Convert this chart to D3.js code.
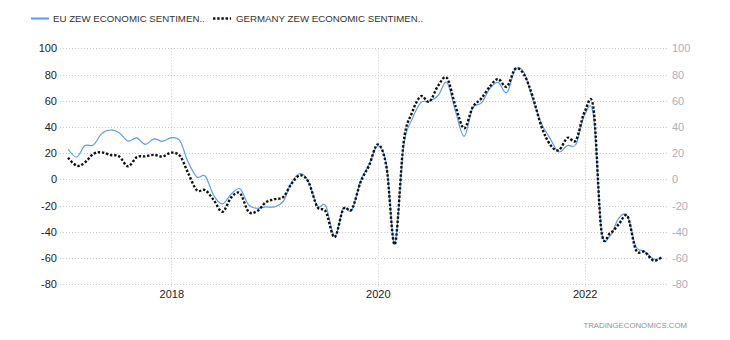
<!DOCTYPE html>
<html>
<head>
<meta charset="utf-8">
<script src="https://cdn.jsdelivr.net/npm/d3@7"></script>
<style>
  html, body { margin: 0; padding: 0; background: #fff; }
  svg { display: block; font-family: "Liberation Sans", Arial, sans-serif; }
</style>
</head>
<body>
<svg id="chart" width="730" height="340"></svg>
<script>
// Monthly readings, January 2017 through October 2022
const startYear = 2017;
const euSentiment = [
  23.2, 17.1, 25.6, 26.3, 35.1, 37.7, 35.6, 29.3, 31.7, 26.7, 30.9, 29.0,
  31.8, 29.3, 13.4, 1.9, 2.4, -12.6, -18.7, -11.1, -7.2, -19.4, -22.0, -21.0,
  -20.9, -16.6, -2.5, 4.5, -1.6, -20.2, -20.3, -43.6, -22.4, -23.5, -1.0, 11.2,
  25.6, 10.4, -49.5, 25.2, 46.0, 58.6, 59.6, 64.0, 73.9, 52.3, 32.8, 54.4,
  58.3, 69.6, 74.0, 66.3, 84.0, 81.3, 61.2, 42.7, 31.1, 21.0, 25.9, 26.8,
  49.4, 48.6, -38.7, -43.0, -29.5, -28.0, -51.1, -54.9, -60.7, -59.7
];
const germanySentiment = [
  16.6, 10.4, 12.8, 19.5, 20.6, 18.6, 17.5, 10.0, 17.0, 17.6, 18.7, 17.4,
  20.4, 17.8, 5.1, -8.2, -8.2, -16.1, -24.7, -13.7, -10.6, -24.7, -24.1, -17.5,
  -15.1, -13.4, -3.6, 3.1, -2.1, -21.1, -24.5, -44.1, -22.5, -22.8, -2.1, 10.7,
  26.7, 8.7, -49.5, 28.2, 51.0, 63.4, 59.3, 71.5, 77.4, 56.1, 39.0, 55.0,
  61.8, 71.2, 76.6, 70.7, 84.4, 79.8, 63.3, 40.4, 26.5, 22.3, 31.7, 29.9,
  51.7, 54.3, -39.3, -41.0, -34.3, -28.0, -53.8, -55.3, -61.9, -59.2
];
const seriesNames = ["EU ZEW ECONOMIC SENTIMEN..", "GERMANY ZEW ECONOMIC SENTIMEN.."];
const yTickValues = [-80, -60, -40, -20, 0, 20, 40, 60, 80, 100];
const xTickYears = [2018, 2020, 2022];
const sourceLabel = "TRADINGECONOMICS.COM";

const svg = d3.select("#chart");
const plot = { left: 60, right: 668, top: 48.3, bottom: 284.3 };

const x = d3.scaleTime()
  .domain([new Date(2017, 0, 1), new Date(2023, 0, 1)])
  .range([68, 688]);
const y = d3.scaleLinear()
  .domain([-80, 100])
  .range([plot.bottom, plot.top]);

const monthDate = i => new Date(startYear + Math.floor(i / 12), i % 12, 1);
// plain hyphen for negatives
const yLabel = d => String(d);

// Dotted grid
const grid = svg.append("g")
  .attr("stroke", "#c9c9c9")
  .attr("stroke-width", 1)
  .attr("stroke-dasharray", "1,2");
grid.selectAll("line.h").data(yTickValues).join("line")
  .attr("class", "h")
  .attr("x1", plot.left).attr("x2", plot.right)
  .attr("y1", d => Math.round(y(d)) + 0.5).attr("y2", d => Math.round(y(d)) + 0.5);
grid.selectAll("line.v").data(xTickYears).join("line")
  .attr("class", "v")
  .attr("x1", d => Math.round(x(new Date(d, 0, 1))) + 0.5)
  .attr("x2", d => Math.round(x(new Date(d, 0, 1))) + 0.5)
  .attr("y1", plot.top).attr("y2", plot.bottom + 3);

// Axes (labels only)
const leftAxis = svg.append("g")
  .attr("transform", `translate(${plot.left},0)`)
  .call(d3.axisLeft(y).tickValues(yTickValues).tickFormat(yLabel).tickSize(0).tickPadding(3));
leftAxis.select(".domain").remove();
leftAxis.selectAll("text").attr("fill", "#222").attr("font-size", "11px")
  .attr("font-family", "'Liberation Sans', Arial, sans-serif");

const rightAxis = svg.append("g")
  .attr("transform", `translate(${plot.right},0)`)
  .call(d3.axisRight(y).tickValues(yTickValues).tickFormat(yLabel).tickSize(0).tickPadding(4));
rightAxis.select(".domain").remove();
rightAxis.selectAll("text").attr("fill", "#aeacb8").attr("font-size", "11px")
  .attr("font-family", "'Liberation Sans', Arial, sans-serif");

const bottomAxis = svg.append("g")
  .attr("transform", `translate(0,${plot.bottom})`)
  .call(d3.axisBottom(x)
    .tickValues(xTickYears.map(yr => new Date(yr, 0, 1)))
    .tickFormat(d3.timeFormat("%Y"))
    .tickSize(0).tickPadding(6));
bottomAxis.select(".domain").remove();
bottomAxis.selectAll("text").attr("fill", "#222").attr("font-size", "11px")
  .attr("font-family", "'Liberation Sans', Arial, sans-serif");

// Series lines
const line = d3.line()
  .x((d, i) => x(monthDate(i)))
  .y(d => y(d))
  .curve(d3.curveCardinal.tension(0));

svg.append("path")
  .datum(euSentiment)
  .attr("fill", "none")
  .attr("stroke", "#5b9cf2")
  .attr("stroke-width", 1.2)
  .attr("d", line);

svg.append("path")
  .datum(germanySentiment)
  .attr("fill", "none")
  .attr("stroke", "#111")
  .attr("stroke-width", 2.4)
  .attr("stroke-dasharray", "2.4,1.8")
  .attr("d", line);

// Legend
const legend = svg.append("g").attr("font-size", "9.7px").attr("fill", "#333");
legend.append("line")
  .attr("x1", 31).attr("x2", 49).attr("y1", 18.5).attr("y2", 18.5)
  .attr("stroke", "#5b9cf2").attr("stroke-width", 2);
legend.append("text").attr("x", 53).attr("y", 22).text(seriesNames[0]);
legend.append("line")
  .attr("x1", 213).attr("x2", 231).attr("y1", 18.5).attr("y2", 18.5)
  .attr("stroke", "#111").attr("stroke-width", 2.4).attr("stroke-dasharray", "2.4,1.8");
legend.append("text").attr("x", 236).attr("y", 22).text(seriesNames[1]);

// Source credit
svg.append("text")
  .attr("x", 687).attr("y", 328)
  .attr("text-anchor", "end")
  .attr("font-size", "7.8px")
  .attr("fill", "#8f919e")
  .text(sourceLabel);
</script>
</body>
</html>
